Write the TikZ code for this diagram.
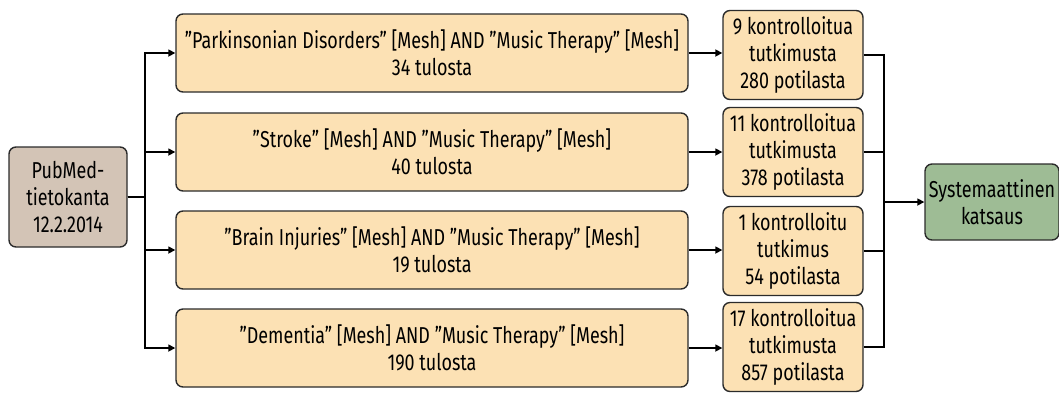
\documentclass[tikz,border=0pt]{standalone}
\usepackage{fontspec}
\setmainfont{Fira Sans}[FakeStretch=0.78]
\usetikzlibrary{arrows.meta}
\definecolor{peach}{HTML}{FCE1B4}
\definecolor{taupe}{HTML}{D3C4B6}
\definecolor{sage}{HTML}{9EBC95}
\definecolor{edge}{HTML}{2B2B2B}
\tikzset{
  box/.style={draw=edge, line width=1.4pt, rounded corners=7pt, align=center, inner sep=1pt,
    font=\fontsize{23}{27}\selectfont},
  mainbox/.style={box, fill=peach, minimum width=512pt, minimum height=78pt},
  resbox/.style={box, fill=peach, minimum width=140pt, minimum height=89pt},
  conn/.style={line width=1.6pt, draw=black},
  arr/.style={conn, -{Triangle[length=7pt,width=7pt]}}
}
\begin{document}
\begin{tikzpicture}[x=1pt,y=-1pt]
\useasboundingbox (0,0) rectangle (1059,392);
\node[box, fill=taupe, minimum width=118pt, minimum height=100pt] (pub) at (68,197) {PubMed-\\tietokanta\\12.2.2014};
\node[mainbox] (m1) at (432,53) {”Parkinsonian Disorders” [Mesh] AND ”Music Therapy” [Mesh]\\34 tulosta};
\node[mainbox] (m2) at (432,152) {”Stroke” [Mesh] AND ”Music Therapy” [Mesh]\\40 tulosta};
\node[mainbox] (m3) at (432,250) {”Brain Injuries” [Mesh] AND ”Music Therapy” [Mesh]\\19 tulosta};
\node[mainbox] (m4) at (432,348) {”Dementia” [Mesh] AND ”Music Therapy” [Mesh]\\190 tulosta};
\node[resbox] (r1) at (793,55) {9 kontrolloitua\\tutkimusta\\280 potilasta};
\node[resbox] (r2) at (793,152) {11 kontrolloitua\\tutkimusta\\378 potilasta};
\node[resbox] (r3) at (793,251) {1 kontrolloitu\\tutkimus\\54 potilasta};
\node[resbox] (r4) at (793,347) {17 kontrolloitua\\tutkimusta\\857 potilasta};
\node[box, fill=sage, minimum width=134pt, minimum height=76pt] (sys) at (992,202) {Systemaattinen\\katsaus};
\coordinate (j) at (884,202);
\foreach \i in {1,...,4}{
  \draw[arr] (pub.east) -- ++(17,0) |- (m\i.west);
  \draw[arr] (m\i.east) -- (m\i.east -| r\i.west);
  \draw[conn] (r\i.east) -| (j);
}
\draw[arr] (j) -- (sys.west);
\end{tikzpicture}
\end{document}
